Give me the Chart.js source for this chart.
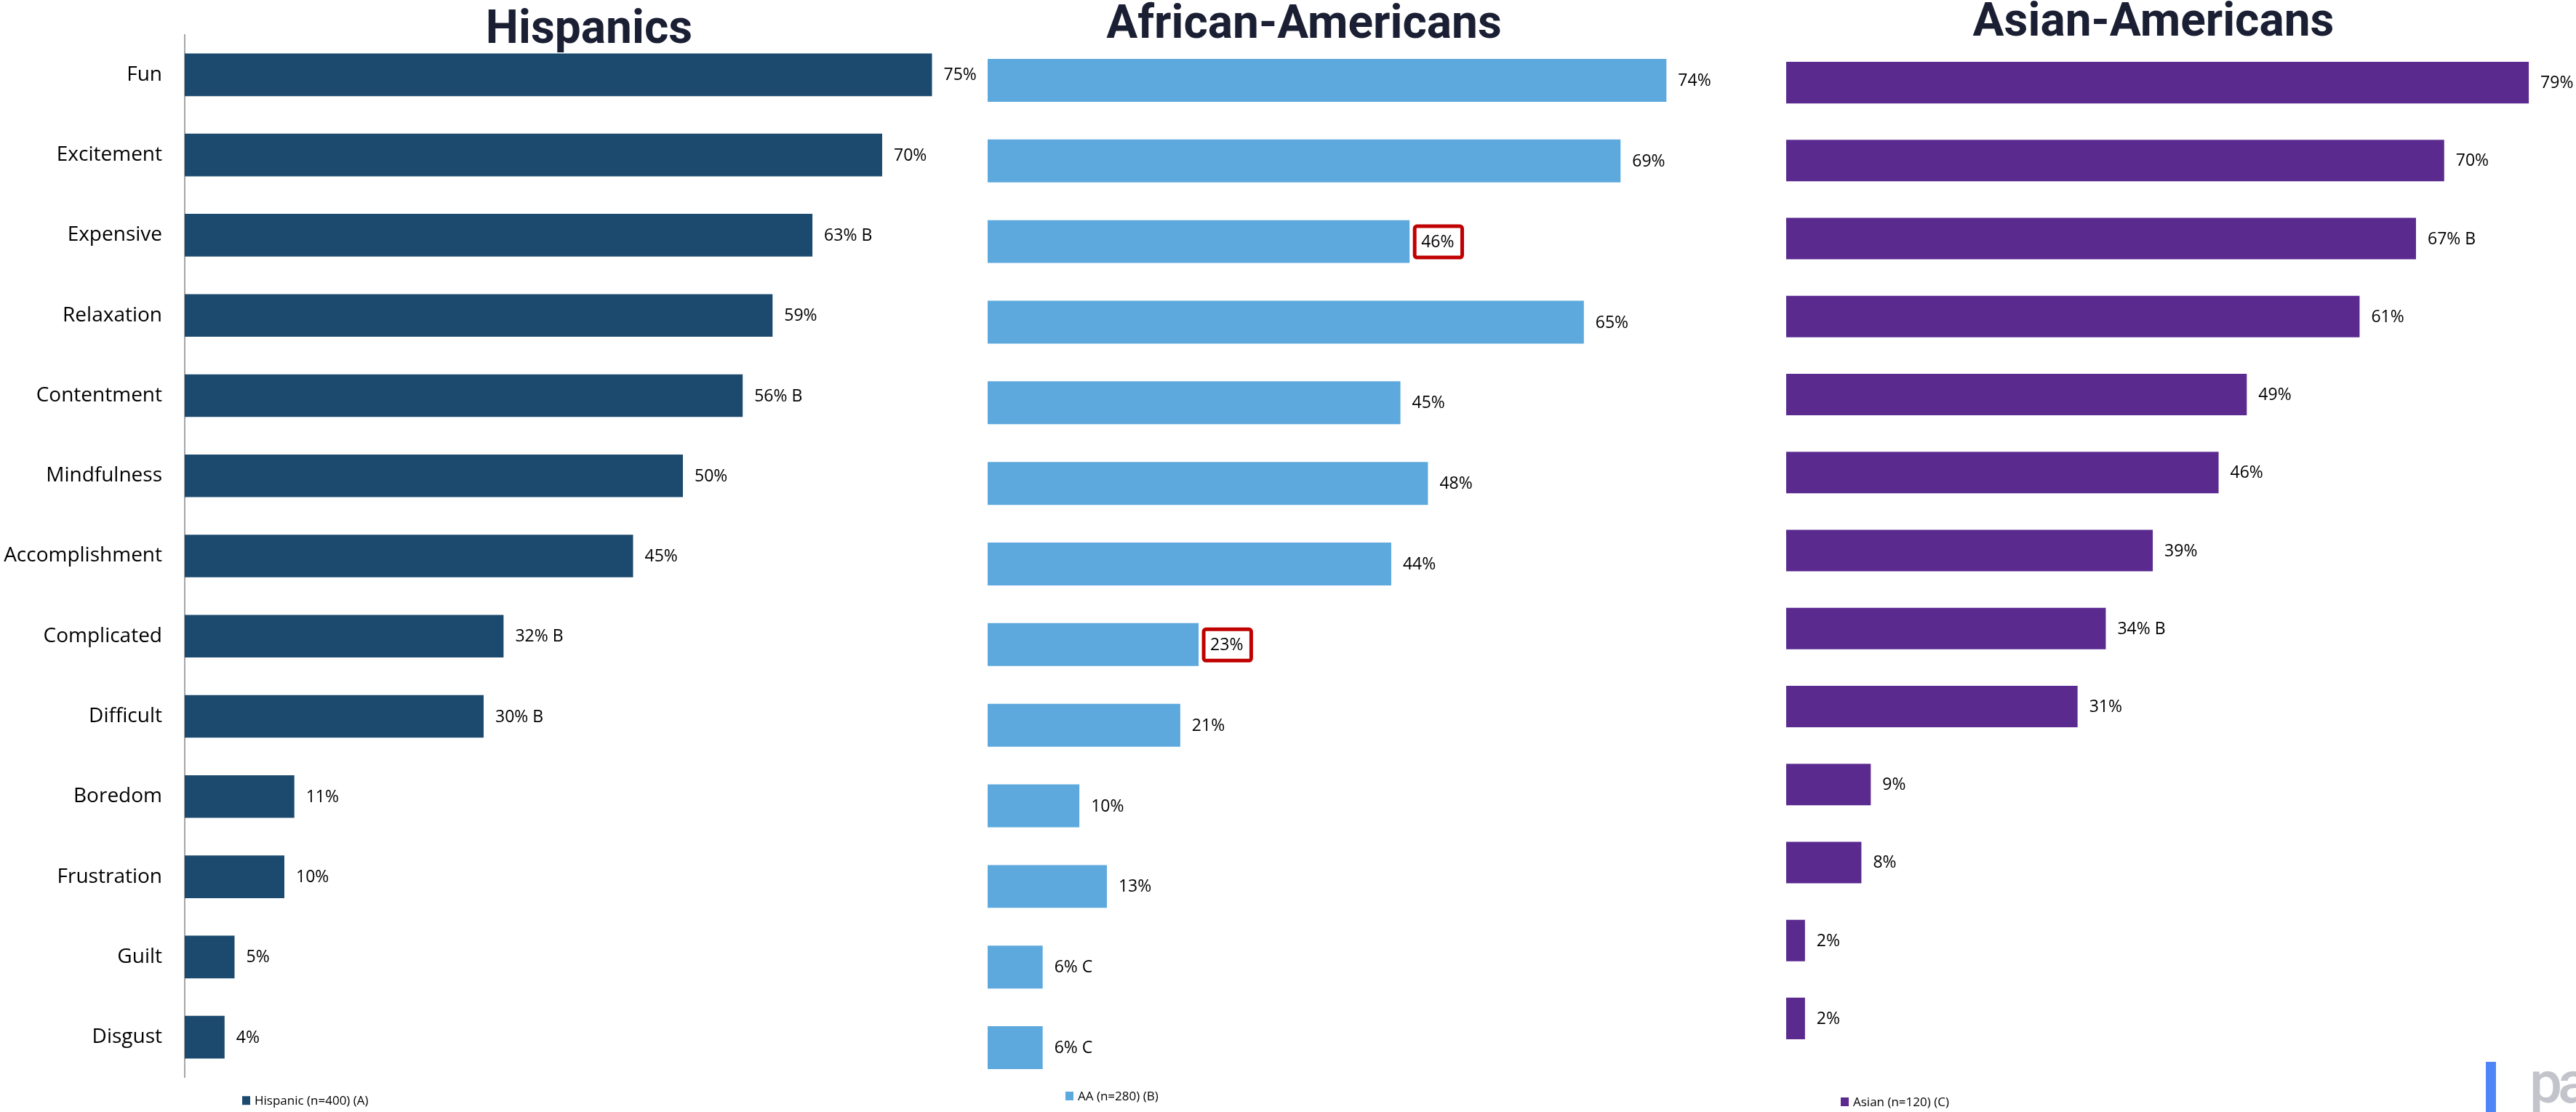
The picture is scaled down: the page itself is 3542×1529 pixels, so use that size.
<!DOCTYPE html>
<html>
<head>
<meta charset="utf-8">
<script src="https://cdn.jsdelivr.net/npm/chart.js@4.4.1/dist/chart.umd.min.js"></script>
<style>
  body { margin: 0; width: 3542px; height: 1529px; background: #fff; position: relative; overflow: hidden; }
  canvas { position: absolute; top: 0; }
  .title { position: absolute; font-family: Roboto, sans-serif; font-weight: 700; font-size: 64px; line-height: 1;
           color: #1b1f33; white-space: nowrap; transform: translateX(-50%); }
  .logo-bar { position: absolute; left: 3418px; top: 1460px; width: 14px; height: 69px; background: #4f86f7; }
  .logo-text { position: absolute; left: 3478px; top: 1449px; font-family: Roboto, sans-serif; font-weight: 500;
               font-size: 80px; line-height: 1; color: #c3c3cb; letter-spacing: -6px; }
</style>
</head>
<body>
<div class="title" style="left:810px; top:6px">Hispanics</div>
<div class="title" style="left:1793px; top:-1px">African-Americans</div>
<div class="title" style="left:2961px; top:-4px">Asian-Americans</div>

<canvas id="hisp-chart" width="1350" height="1529" style="left:0px"></canvas>
<canvas id="aa-chart" width="1009" height="1529" style="left:1358px"></canvas>
<canvas id="asian-chart" width="1086" height="1529" style="left:2456px"></canvas>

<div class="logo-bar"></div>
<div class="logo-text">pa</div>

<script>
// Категории (эмоции)
const categories = ['Fun', 'Excitement', 'Expensive', 'Relaxation', 'Contentment', 'Mindfulness',
  'Accomplishment', 'Complicated', 'Difficult', 'Boredom', 'Frustration', 'Guilt', 'Disgust'];

// Значения по группам (%)
const hispanicValues = [75, 70, 63, 59, 56, 50, 45, 32, 30, 11, 10, 5, 4];
const aaValues = [74, 69, 46, 65, 45, 48, 44, 23, 21, 10, 13, 6, 6];
const asianValues = [79, 70, 67, 61, 49, 46, 39, 34, 31, 9, 8, 2, 2];

// Буквы значимых различий
const hispanicSig = ['', '', 'B', '', 'B', '', '', 'B', 'B', '', '', '', ''];
const aaSig = ['', '', '', '', '', '', '', '', '', '', '', 'C', 'C'];
const asianSig = ['', '', 'B', '', '', '', '', 'B', '', '', '', '', ''];

// Подсвеченные значения (красная рамка)
const aaHighlight = [false, false, true, false, false, false, false, true, false, false, false, false, false];

const seriesNames = ['Hispanic (n=400) (A)', 'AA (n=280) (B)', 'Asian (n=120) (C)'];

// Плагин подписей значений и легенды
function makeLabelPlugin(sig, highlight, legendOffset) {
  return {
    id: 'valueLabels',
    afterDatasetsDraw(chart) {
      const ctx = chart.ctx;
      const ds = chart.data.datasets[0];
      const meta = chart.getDatasetMeta(0);
      ctx.save();
      ctx.font = '23px "Open Sans"';
      ctx.textBaseline = 'middle';
      ctx.textAlign = 'left';
      meta.data.forEach((bar, i) => {
        const text = ds.data[i] + '%' + (sig[i] ? ' ' + sig[i] : '');
        const x = bar.x + 16;
        ctx.fillStyle = '#000';
        ctx.fillText(text, x, bar.y + 1);
        if (highlight && highlight[i]) {
          const w = ctx.measureText(text).width;
          ctx.strokeStyle = '#c00000';
          ctx.lineWidth = 5;
          ctx.beginPath();
          ctx.roundRect(x - 9, bar.y - 21, w + 20, 43, 3);
          ctx.stroke();
        }
      });

      // легенда
      const area = chart.chartArea;
      const lx = area.left + legendOffset[0];
      const ly = area.bottom + legendOffset[1];
      ctx.fillStyle = ds.backgroundColor;
      ctx.fillRect(lx, ly - 6, 11, 12);
      ctx.fillStyle = '#000';
      ctx.font = '17px "Open Sans"';
      ctx.fillText(ds.label, lx + 17, ly + 1);
      ctx.restore();
    }
  };
}

function createChart(id, values, label, color, opts) {
  const ctx = document.getElementById(id).getContext('2d');
  return new Chart(ctx, {
    type: 'bar',
    data: {
      labels: categories,
      datasets: [{
        label: label,
        data: values,
        backgroundColor: color,
        borderWidth: 0,
        categoryPercentage: 1,
        barPercentage: opts.barRatio
      }]
    },
    options: {
      indexAxis: 'y',
      responsive: false,
      animation: false,
      layout: { padding: opts.padding },
      scales: {
        x: { display: false, min: 0, max: 80 },
        y: {
          display: opts.showAxis,
          grid: { display: false, drawTicks: false },
          border: { display: opts.showAxis, color: '#a6a6a6', width: 2 },
          ticks: { color: '#000', padding: 31, font: { family: 'Open Sans', size: 28 } },
          afterFit: (scale) => { scale.width = opts.axisWidth || 0; }
        }
      },
      plugins: {
        legend: { display: false },
        tooltip: { enabled: false },
        title: { display: false }
      }
    },
    plugins: [makeLabelPlugin(opts.sig, opts.highlight, opts.legendOffset)]
  });
}

createChart('hisp-chart', hispanicValues, seriesNames[0], '#1c4a6e', {
  barRatio: 0.532, showAxis: true, axisWidth: 254,
  padding: { top: 42, bottom: 46, left: 0, right: 0 },
  sig: hispanicSig, highlight: null, legendOffset: [79, 32]
});

createChart('aa-chart', aaValues, seriesNames[1], '#5da8dc', {
  barRatio: 0.532, showAxis: false,
  padding: { top: 55, bottom: 33, left: 0, right: 0 },
  sig: aaSig, highlight: aaHighlight, legendOffset: [107, 11]
});

createChart('asian-chart', asianValues, seriesNames[2], '#5a2a8f', {
  barRatio: 0.532, showAxis: false,
  padding: { top: 60, bottom: 75, left: 0, right: 52 },
  sig: asianSig, highlight: null, legendOffset: [75, 61]
});
</script>
</body>
</html>
